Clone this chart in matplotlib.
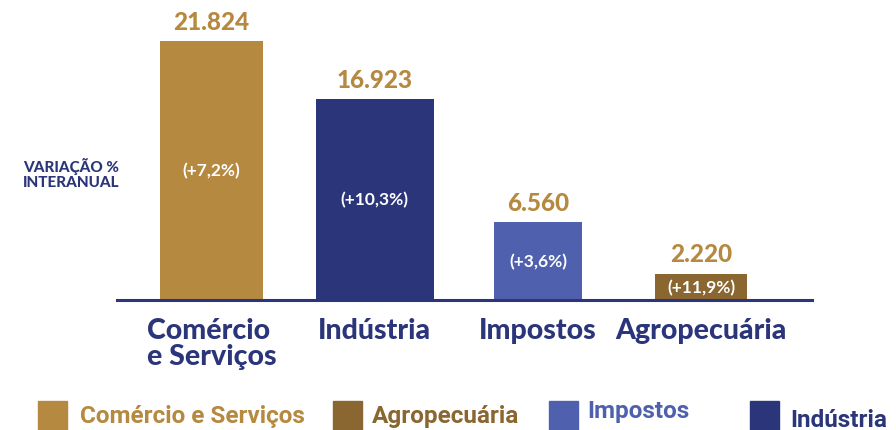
import numpy as np
import matplotlib.pyplot as plt
from matplotlib.patches import Rectangle

# dados
setores = ['Comércio\ne Serviços', 'Indústria', 'Impostos', 'Agropecuária']
valores = [21824, 16923, 6560, 2220]
valores_txt = ['21.824', '16.923', '6.560', '2.220']
variacao = ['(+7,2%)', '(+10,3%)', '(+3,6%)', '(+11,9%)']

legenda = ['Comércio e Serviços', 'Agropecuária', 'Impostos', 'Indústria']

OURO = '#B5893F'
MARROM = '#8A6630'
AZUL = '#2B357A'
AZUL_CLARO = '#4F61AE'
cores = [OURO, AZUL, AZUL_CLARO, MARROM]
cores_leg = [OURO, MARROM, AZUL_CLARO, AZUL]

W, H = 896, 431
fig = plt.figure(figsize=(W / 100, H / 100), dpi=100)

# eixo: linha base em y=301px, topo da maior barra em y=42px
ax = fig.add_axes([117 / W, (H - 301) / H, 695 / W, 259 / H])
x = np.arange(len(setores))
larguras = [0.63, 0.72, 0.54, 0.56]
ax.bar(x, valores, width=larguras, color=cores, zorder=2)
ax.set_xlim(-0.58, 3.68)
ax.set_ylim(0, max(valores))

for s in ['top', 'right', 'left']:
    ax.spines[s].set_visible(False)
ax.spines['bottom'].set_color(AZUL)
ax.spines['bottom'].set_linewidth(2.2)
ax.spines['bottom'].set_zorder(3)
ax.set_yticks([])
ax.set_xticks([])

fonte = 'Lato'
for i in range(len(setores)):
    ax.annotate(valores_txt[i], (x[i], valores[i]), xytext=(0, 6), textcoords='offset points',
                ha='center', va='bottom', color=OURO, fontsize=17.5, fontweight='black',
                family=fonte, annotation_clip=False)
    ax.text(x[i], valores[i] / 2, variacao[i], ha='center', va='center', color='white',
            fontsize=12.5, family=fonte, fontweight='bold')
    ax.annotate(setores[i], (x[i], 0), xytext=(0, -12.5), textcoords='offset points',
                ha='center', va='top', multialignment='left', color=AZUL,
                fontsize=20.5, fontweight='black', family=fonte, linespacing=1.0,
                annotation_clip=False)

fig.text(23 / W, 1 - 174 / H, 'VARIAÇÃO %\nINTERANUAL', ha='left', va='center', color=AZUL,
         fontsize=11, fontweight='black', family=fonte, linespacing=1.15)

# legenda manual
quad_x = [38, 333, 549, 750]
txt_x = [80, 372, 587, 790]
txt_y = [417, 417, 412, 421]
for i in range(len(legenda)):
    fig.patches.append(Rectangle((quad_x[i] / W, 0), 29 / W, 29 / H,
                                 transform=fig.transFigure, color=cores_leg[i]))
    fig.text(txt_x[i] / W, 1 - txt_y[i] / H, legenda[i], ha='left', va='center',
             color=cores_leg[i], fontsize=17.5, fontweight='bold', family='Roboto')

fig.savefig('out.png', dpi=100)
